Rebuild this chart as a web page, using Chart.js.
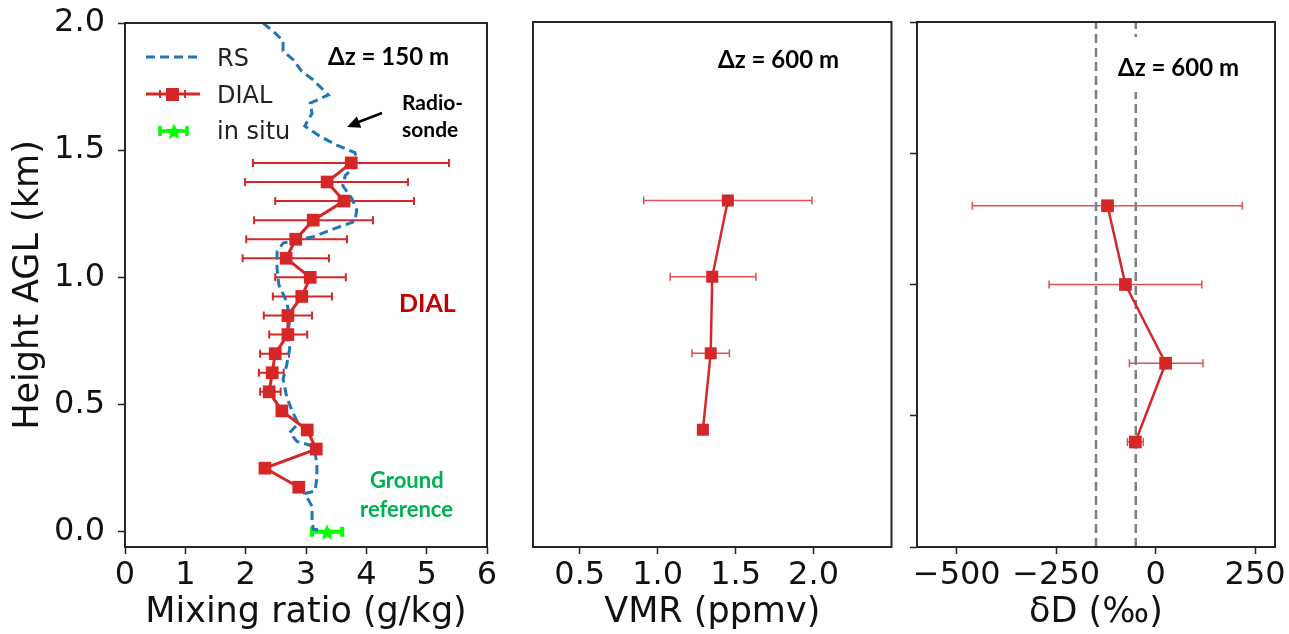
<!DOCTYPE html>
<html>
<head>
<meta charset="utf-8">
<script src="https://cdn.jsdelivr.net/npm/chart.js@4.4.1/dist/chart.umd.min.js"></script>
<style>
  body { margin: 0; background: #fff; width: 1289px; height: 634px; overflow: hidden; position: relative; }
  canvas { position: absolute; top: 0; }
</style>
</head>
<body>
<canvas id="mix" width="500" height="634" style="left:0px"></canvas>
<canvas id="vmr" width="400" height="634" style="left:500px"></canvas>
<canvas id="dd" width="389" height="634" style="left:900px"></canvas>
<script>
// radiosonde profile (km, g/kg)
const rsHeight = [2.00, 1.96, 1.93, 1.89, 1.855, 1.81, 1.78, 1.75, 1.717, 1.685, 1.645, 1.595, 1.555, 1.52, 1.49,
  1.47, 1.43, 1.40, 1.36, 1.31, 1.265, 1.22, 1.19, 1.16, 1.135, 1.10, 1.035, 0.97, 0.905, 0.84, 0.76, 0.72,
  0.655, 0.60, 0.53, 0.475, 0.425, 0.39, 0.355, 0.34, 0.315, 0.26, 0.21, 0.16, 0.15, 0.10, 0.05, 0.01, 0.005];
const rsMixing = [2.29, 2.49, 2.62, 2.62, 2.79, 2.93, 3.10, 3.23, 3.37, 3.07, 3.10, 2.98, 3.23, 3.51, 3.81,
  3.84, 3.78, 3.65, 3.61, 3.76, 3.84, 3.81, 3.45, 3.12, 2.62, 2.52, 2.52, 2.55, 2.68, 2.73, 2.70, 2.73,
  2.68, 2.62, 2.68, 2.77, 2.87, 2.73, 2.85, 3.07, 3.15, 3.18, 3.18, 3.15, 2.98, 3.10, 3.10, 3.12, 3.28];

// DIAL, 150 m resolution
const dialHeight = [1.45, 1.375, 1.30, 1.225, 1.15, 1.075, 1.00, 0.925, 0.85, 0.775, 0.70, 0.625, 0.55, 0.475, 0.40, 0.325, 0.25, 0.175];
const dialMixing = [3.75, 3.35, 3.63, 3.12, 2.83, 2.67, 3.07, 2.93, 2.70, 2.70, 2.49, 2.44, 2.39, 2.60, 3.02, 3.17, 2.32, 2.88];
const dialLow = [2.12, 1.99, 2.49, 2.14, 2.01, 1.95, 2.49, 2.45, 2.30, 2.39, 2.24, 2.22, 2.24, null, null, null, null, null];
const dialHigh = [5.37, 4.69, 4.79, 4.11, 3.68, 3.38, 3.66, 3.43, 3.10, 3.02, 2.72, 2.63, 2.58, null, null, null, null, null];

// ground in situ
const insituHeight = [0.0];
const insituMixing = [3.35];
const insituLow = [3.10];
const insituHigh = [3.60];

// 600 m resolution
const coarseHeight = [1.30, 1.00, 0.70, 0.40];
const vmr = [1.45, 1.35, 1.34, 1.29];
const vmrLow = [0.91, 1.08, 1.22, null];
const vmrHigh = [1.99, 1.63, 1.46, null];
const deltaD = [-121, -76, 25, -51];
const deltaDLow = [-461, -268, -66, -71];
const deltaDHigh = [218, 116, 119, -31];
const refLines = [-150, -50];

// ticks
const mixTicks = [0, 1, 2, 3, 4, 5, 6];
const heightTicks = [0, 0.5, 1.0, 1.5, 2.0];
const vmrTicks = [0.5, 1.0, 1.5, 2.0];
const deltaTicks = [-500, -250, 0, 250];

const RED = '#d62728';
const tickFont = { family: 'DejaVu Sans', size: 32 };
const titleFont = { family: 'DejaVu Sans', size: 35 };

function pts(xs, ys) { return ys.map((y, i) => ({ x: xs[i], y: y })); }

function starImage(size, color) {
  const c = document.createElement('canvas');
  c.width = c.height = size;
  const g = c.getContext('2d');
  const r = size / 2, ri = r * 0.45;
  g.beginPath();
  for (let k = 0; k < 10; k++) {
    const a = -Math.PI / 2 + k * Math.PI / 5;
    const rr = k % 2 ? ri : r - 0.5;
    g.lineTo(r + rr * Math.cos(a), r + 1 + rr * Math.sin(a));
  }
  g.closePath();
  g.fillStyle = color;
  g.fill();
  return c;
}

function scale(o) {
  return {
    type: 'linear', min: o.min, max: o.max,
    afterBuildTicks: s => { s.ticks = o.ticks.map(v => ({ value: v })); },
    afterFit: s => {
      if (o.width != null) s.width = o.width;
      if (o.height != null) s.height = o.height;
      // let layout.padding alone decide where the plot box sits
      s.paddingTop = s.paddingBottom = s.paddingLeft = s.paddingRight = 0;
    },
    ticks: { display: o.labels !== false, font: tickFont, color: '#111', padding: o.pad || 0,
      callback: o.fmt, autoSkip: false, maxRotation: 0 },
    grid: { display: o.marks !== false, drawOnChartArea: false, drawTicks: true, tickLength: 7,
      tickWidth: 1.5, tickColor: '#222', color: '#222' },
    border: { display: false },
    title: o.title ? { display: true, text: o.title, font: titleFont, color: '#111', padding: o.titlePad }
                   : { display: false }
  };
}

const errorBars = {
  id: 'errorBars',
  beforeDatasetsDraw(chart) {
    const ctx = chart.ctx;
    chart.data.datasets.forEach((ds, i) => {
      if (!ds.errLow) return;
      const meta = chart.getDatasetMeta(i);
      const xs = chart.scales[meta.xAxisID], ys = chart.scales[meta.yAxisID];
      ctx.save();
      ctx.strokeStyle = ds.errColor;
      ctx.lineWidth = ds.errWidth;
      ds.data.forEach((p, j) => {
        if (ds.errLow[j] == null) return;
        const y = ys.getPixelForValue(p.y);
        const x0 = xs.getPixelForValue(ds.errLow[j]);
        const x1 = xs.getPixelForValue(ds.errHigh[j]);
        const c = ds.capSize;
        ctx.beginPath();
        ctx.moveTo(x0, y); ctx.lineTo(x1, y);
        ctx.moveTo(x0, y - c); ctx.lineTo(x0, y + c);
        ctx.moveTo(x1, y - c); ctx.lineTo(x1, y + c);
        ctx.stroke();
      });
      ctx.restore();
    });
  }
};

// frame + free text, drawn on top
function notes(id, cover, draw) {
  return {
    id: id,
    afterDatasetsDraw(chart) {
      if (cover) { chart.ctx.save(); chart.ctx.fillStyle = '#fff'; chart.ctx.fillRect(...cover); chart.ctx.restore(); }
    },
    afterDraw(chart) {
      const ctx = chart.ctx, a = chart.chartArea;
      ctx.save();
      ctx.strokeStyle = '#262626';
      ctx.lineWidth = 2;
      ctx.strokeRect(a.left, a.top, a.right - a.left, a.bottom - a.top);
      draw(ctx);
      ctx.restore();
    }
  };
}

function label(ctx, text, x, y, font, color) {
  ctx.font = font;
  ctx.fillStyle = color || '#000';
  ctx.textAlign = 'left';
  ctx.textBaseline = 'alphabetic';
  ctx.fillText(text, x, y);
}

const base = {
  responsive: false, animation: false, devicePixelRatio: 1,
  plugins: { legend: { display: false }, tooltip: { enabled: false } }
};

const star = starImage(18, '#00ff00');

// panel 1: mixing ratio
new Chart(document.getElementById('mix'), {
  type: 'scatter',
  data: {
    datasets: [
      { data: pts(insituMixing, insituHeight), pointStyle: star, pointRadius: 9,
        errLow: insituLow, errHigh: insituHigh, errColor: '#00ff00', errWidth: 4, capSize: 5 },
      { data: pts(dialMixing, dialHeight), showLine: true, borderColor: RED, borderWidth: 3,
        pointStyle: 'rect', pointRadius: 9, pointBackgroundColor: RED, pointBorderWidth: 0,
        errLow: dialLow, errHigh: dialHigh, errColor: RED, errWidth: 2, capSize: 4 },
      { data: pts(rsMixing, rsHeight), showLine: true, borderColor: '#1f77b4', borderWidth: 3,
        borderDash: [9, 5], pointRadius: 0 }
    ]
  },
  options: Object.assign({}, base, {
    layout: { padding: { left: 0, top: 23, right: 13, bottom: 0 } },
    scales: {
      x: scale({ min: 0, max: 6, ticks: mixTicks, fmt: v => String(v), height: 87, pad: 2,
        title: 'Mixing ratio (g/kg)', titlePad: { top: 0, bottom: 0 } }),
      y: scale({ min: -0.06, max: 2.0, ticks: heightTicks, fmt: v => v.toFixed(1), width: 125, pad: 13,
        title: 'Height AGL (km)', titlePad: { top: 8, bottom: 0 } })
    }
  }),
  plugins: [errorBars, notes('notes1', null, ctx => {
    // legend
    const lf = '24px "DejaVu Sans"';
    ctx.strokeStyle = '#1f77b4'; ctx.lineWidth = 3; ctx.setLineDash([9, 5]);
    ctx.beginPath(); ctx.moveTo(146, 57); ctx.lineTo(200, 57); ctx.stroke();
    ctx.setLineDash([]);
    ctx.strokeStyle = RED; ctx.lineWidth = 3;
    ctx.beginPath(); ctx.moveTo(146, 94); ctx.lineTo(200, 94); ctx.stroke();
    ctx.lineWidth = 2;
    ctx.beginPath(); ctx.moveTo(160, 90); ctx.lineTo(160, 98); ctx.moveTo(185, 90); ctx.lineTo(185, 98); ctx.stroke();
    ctx.fillStyle = RED; ctx.fillRect(166, 88, 13, 13);
    ctx.strokeStyle = '#00ff00'; ctx.lineWidth = 3.5;
    ctx.beginPath(); ctx.moveTo(160, 131); ctx.lineTo(187, 131);
    ctx.moveTo(160, 126); ctx.lineTo(160, 136); ctx.moveTo(187, 126); ctx.lineTo(187, 136); ctx.stroke();
    ctx.drawImage(star, 165, 122);
    label(ctx, 'RS', 217, 66, lf, '#222');
    label(ctx, 'DIAL', 217, 103, lf, '#222');
    label(ctx, 'in situ', 217, 139, lf, '#222');
    // annotations
    label(ctx, '\u0394z = 150 m', 328, 65, 'bold 24px Lato');
    label(ctx, 'Radio-', 402, 110, 'bold 21px Lato');
    label(ctx, 'sonde', 402, 137, 'bold 21px Lato');
    label(ctx, 'DIAL', 399, 312, 'bold 25px Lato', '#c00000');
    label(ctx, 'Ground', 370, 488, 'bold 22px Lato', '#00b050');
    label(ctx, 'reference', 360, 517, 'bold 22px Lato', '#00b050');
    // arrow to the sonde curve
    ctx.strokeStyle = '#000'; ctx.fillStyle = '#000'; ctx.lineWidth = 2.5;
    ctx.beginPath(); ctx.moveTo(382, 113); ctx.lineTo(356, 123); ctx.stroke();
    const ang = Math.atan2(127 - 113, 347 - 382);
    ctx.beginPath();
    ctx.moveTo(347, 127);
    ctx.lineTo(347 - 13 * Math.cos(ang) + 6 * Math.sin(ang), 127 - 13 * Math.sin(ang) - 6 * Math.cos(ang));
    ctx.lineTo(347 - 13 * Math.cos(ang) - 6 * Math.sin(ang), 127 - 13 * Math.sin(ang) + 6 * Math.cos(ang));
    ctx.closePath(); ctx.fill();
  })]
});

// panel 2: VMR
new Chart(document.getElementById('vmr'), {
  type: 'scatter',
  data: {
    datasets: [
      { data: pts(vmr, coarseHeight), showLine: true, borderColor: RED, borderWidth: 2.5,
        pointStyle: 'rect', pointRadius: 8.5, pointBackgroundColor: RED, pointBorderWidth: 0,
        errLow: vmrLow, errHigh: vmrHigh, errColor: 'rgba(214,39,40,0.8)', errWidth: 1.5, capSize: 4 }
    ]
  },
  options: Object.assign({}, base, {
    layout: { padding: { left: 0, top: 22, right: 8, bottom: 0 } },
    scales: {
      x: scale({ min: 0.2, max: 2.5, ticks: vmrTicks, fmt: v => v.toFixed(1), height: 87, pad: 2,
        title: 'VMR (ppmv)', titlePad: { top: 0, bottom: 0 } }),
      y: scale({ min: -0.06, max: 2.0, ticks: heightTicks, labels: false, marks: false, width: 33 })
    }
  }),
  plugins: [errorBars, notes('notes2', null, ctx => {
    label(ctx, '\u0394z = 600 m', 218, 68, 'bold 24px Lato');
  })]
});

// panel 3: deltaD
new Chart(document.getElementById('dd'), {
  type: 'scatter',
  data: {
    datasets: [
      { data: pts(deltaD, coarseHeight), showLine: true, borderColor: RED, borderWidth: 2.5,
        pointStyle: 'rect', pointRadius: 9, pointBackgroundColor: RED, pointBorderWidth: 0,
        errLow: deltaDLow, errHigh: deltaDHigh, errColor: 'rgba(214,39,40,0.8)', errWidth: 1.5, capSize: 4 },
      { data: pts([refLines[0], refLines[0]], [0, 2]), showLine: true, borderColor: '#7f7f7f', borderWidth: 2.5,
        borderDash: [9, 5], pointRadius: 0 },
      { data: pts([refLines[1], refLines[1]], [0, 2]), showLine: true, borderColor: '#7f7f7f', borderWidth: 2.5,
        borderDash: [9, 5], pointRadius: 0 }
    ]
  },
  options: Object.assign({}, base, {
    layout: { padding: { left: 0, top: 22, right: 14, bottom: 0 } },
    scales: {
      x: scale({ min: -600, max: 300, ticks: deltaTicks, fmt: v => v < 0 ? '\u2212' + Math.abs(v) : String(v),
        height: 87, pad: 2, title: '\u03b4D (\u2030)', titlePad: { top: 0, bottom: 0 } }),
      y: scale({ min: 0, max: 2.0, ticks: heightTicks, labels: false, width: 17 })
    }
  }),
  plugins: [errorBars, notes('notes3', [213, 37, 160, 55], ctx => {
    label(ctx, '\u0394z = 600 m', 218, 76, 'bold 24px Lato');
  })]
});
</script>
</body>
</html>
